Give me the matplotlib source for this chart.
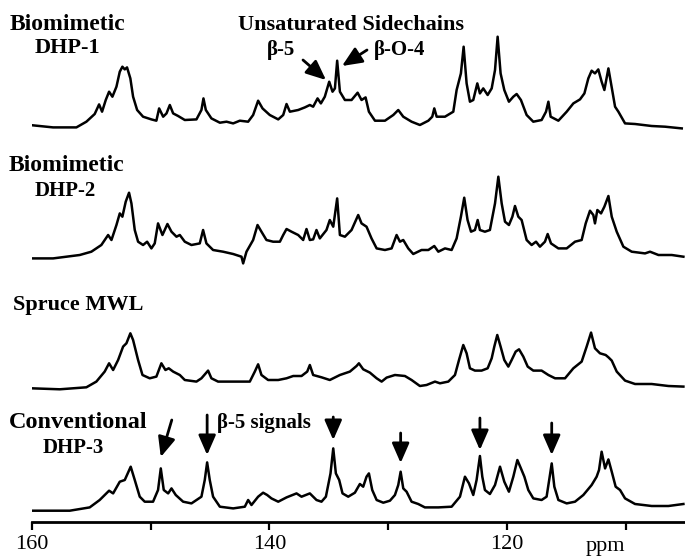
import matplotlib
matplotlib.use('Agg')
import matplotlib.pyplot as plt

# ---------------- data ----------------
dhp1_ppm = [160.17, 158.2, 156.24, 155.4, 154.7, 154.33, 154.08, 153.77, 153.49, 153.21, 152.87, 152.59,
            152.37, 152.17, 151.98, 151.7, 151.47, 151.13, 150.63, 149.93, 149.51, 149.28, 148.94, 148.66,
            148.38, 148.1, 147.68, 147.12, 146.14, 145.72, 145.55, 145.35, 144.88, 144.17, 143.61, 143.05,
            142.49, 141.79, 141.37, 140.95, 140.58, 139.97, 139.26, 138.84, 138.56, 138.28, 137.58, 137.02,
            136.6, 136.32, 135.95, 135.67, 135.34, 134.97, 134.69, 134.49, 134.3, 134.07, 133.65, 133.09,
            132.58, 132.25, 131.91, 131.63, 131.12, 130.28, 129.58, 129.16, 128.74, 128.04, 127.34, 126.63,
            126.3, 126.13, 125.93, 125.23, 124.53, 124.25, 123.89, 123.66, 123.41, 123.13, 122.85, 122.51,
            122.29, 122.01, 121.64, 121.3, 121.02, 120.8, 120.55, 120.24, 119.85, 119.48, 119.2, 118.84,
            118.36, 117.8, 117.1, 116.73, 116.53, 116.34, 115.69, 114.99, 114.43, 113.87, 113.5, 113.17,
            112.89, 112.61, 112.33, 112.05, 111.82, 111.48, 111.26, 110.92, 110.64, 110.08, 109.24, 107.84,
            106.71, 105.31]
dhp1_int = [1.7, -0.7, -0.7, 5, 12.7, 22.3, 15, 26.7, 35, 30, 40, 55,
            60, 57.3, 59.3, 48.3, 30, 16.7, 10, 7.3, 6, 18.3, 10, 13.3,
            21.7, 13.3, 10.7, 6.7, 7.3, 16.7, 28.3, 16.7, 8.3, 4, 5, 3.3,
            6, 5, 11.7, 26, 18.3, 11.7, 7.3, 11.7, 22.7, 15, 16.7, 19.3,
            21.7, 20, 28.3, 23.3, 30, 45, 35, 38.3, 66, 35, 26.7, 26.7,
            34, 26.7, 29.3, 15, 6, 6, 11.7, 16.7, 10, 5, 1.7, 6,
            10, 18.3, 10, 10, 15, 36.7, 53.3, 80, 43.3, 25, 26.7, 43.3,
            33.3, 38.3, 31.7, 38.3, 56.7, 90, 53.3, 36.7, 25, 30, 32.7, 26.7,
            11.7, 5, 6.7, 15, 25, 10, 6, 15, 23.3, 27.3, 33.3, 48.3,
            56, 53.3, 57.3, 45, 36.7, 58.3, 43.3, 20, 15, 3.3, 2.7, 0.7,
            0, -1.7]

dhp2_ppm = [160.03, 158.2, 155.96, 154.98, 154.14, 153.57, 153.29, 152.87, 152.59, 152.37, 152.09, 151.81,
            151.61, 151.33, 151.05, 150.63, 150.29, 149.93, 149.65, 149.37, 149.0, 148.58, 148.24, 147.82,
            147.54, 147.12, 146.56, 145.86, 145.58, 145.3, 144.74, 143.9, 143.05, 142.35, 142.21, 141.93,
            141.37, 141.0, 140.67, 140.25, 139.69, 139.12, 138.84, 138.56, 138.14, 137.58, 137.16, 136.88,
            136.6, 136.32, 136.04, 135.76, 135.2, 134.92, 134.63, 134.3, 134.07, 133.65, 133.09, 132.53,
            132.25, 131.83, 131.41, 130.98, 130.28, 129.72, 129.3, 129.02, 128.74, 128.32, 127.9, 127.2,
            126.63, 126.13, 125.79, 125.23, 124.67, 124.25, 123.89, 123.61, 123.33, 123.04, 122.71, 122.48,
            122.29, 121.87, 121.45, 121.02, 120.74, 120.46, 120.18, 119.85, 119.56, 119.34, 119.06, 118.78,
            118.36, 117.94, 117.57, 117.24, 116.82, 116.59, 116.31, 115.69, 114.99, 114.29, 113.73, 113.39,
            113.03, 112.75, 112.61, 112.41, 112.1, 111.82, 111.48, 111.2, 110.78, 110.22, 109.52, 108.4,
            107.98, 107.27, 106.15, 105.17]
dhp2_int = [-1.7, -1.7, 1.7, 5, 11.7, 21.7, 16.7, 31.7, 43.3, 40, 55, 64,
            53.3, 26.7, 15, 11.7, 15, 8.3, 13.3, 33.3, 21.7, 32.7, 25, 20,
            21.7, 15, 11.7, 13.3, 26.7, 13.3, 6.7, 5, 2.7, 0, -6.7, 5,
            16.7, 31.7, 25, 16.7, 15, 15, 21.7, 27.7, 25, 21.7, 16.7, 27.7,
            16.7, 17.3, 26.7, 18.3, 26.7, 36.7, 30, 58.3, 21.7, 20, 26.7, 41.7,
            33.3, 30, 18.3, 8.3, 6.7, 8.3, 21.7, 15, 16.7, 8.3, 2.7, 6.7,
            6.7, 10.7, 5, 8.3, 6.7, 18.3, 40, 59, 36.7, 25, 26.7, 36.7,
            26.7, 25, 26.7, 53.3, 80, 53.3, 35, 31.7, 40, 50.7, 40, 36.7,
            16.7, 11.7, 15, 10, 15, 22.7, 13.3, 8.3, 8.3, 15, 16.7, 33.3,
            46, 41.7, 33.3, 46.7, 43.3, 50, 60.7, 40, 25, 10, 5, 3.3,
            5, 1.7, 1.7, 0]

mwl_ppm = [160.03, 157.64, 155.4, 154.56, 153.86, 153.49, 153.15, 152.73, 152.31, 152.03, 151.7, 151.47,
           151.05, 150.68, 150.07, 149.51, 149.09, 148.75, 148.47, 148.1, 147.54, 147.12, 146.14, 145.72,
           145.16, 144.88, 144.32, 143.05, 141.65, 141.23, 140.95, 140.67, 140.11, 139.26, 138.56, 138.0,
           137.3, 136.82, 136.6, 136.32, 135.62, 134.92, 134.07, 133.23, 132.67, 132.47, 132.11, 131.55,
           130.98, 130.56, 130.14, 129.44, 128.6, 128.04, 127.34, 126.78, 126.07, 125.65, 124.95, 124.39,
           124.05, 123.69, 123.41, 123.13, 122.71, 122.15, 121.64, 121.3, 121.08, 120.83, 120.55, 120.24,
           119.9, 119.62, 119.28, 119.0, 118.64, 118.27, 117.8, 117.1, 116.53, 115.97, 115.13, 114.43,
           113.73, 113.31, 112.94, 112.61, 112.19, 111.71, 111.48, 111.2, 110.78, 110.08, 109.24, 107.84,
           106.43, 105.17]
mwl_int = [0, -1, 1, 6.7, 16.7, 25, 18.3, 28.3, 41.7, 45, 55, 48.3,
           28.3, 13.3, 10, 11.7, 25, 18.3, 20, 16.7, 13.3, 8.3, 6.7, 10,
           17.7, 10, 6.7, 6.7, 6.7, 16.7, 24, 13.3, 8.3, 8.3, 10, 12.3,
           12.3, 16.7, 23.3, 13.3, 11, 8.3, 13.3, 16.7, 22.3, 25, 19, 15.7,
           10, 6.7, 10.7, 13.3, 12.3, 8.3, 2.3, 3.3, 6.7, 5, 6.7, 13.3,
           28.3, 43.3, 35, 20, 17.7, 17.7, 20, 30, 41.7, 53.3, 41.7, 28.3,
           21.7, 28.3, 36.7, 39, 31.7, 21.7, 17.7, 17.7, 13.3, 10, 10, 20,
           26.7, 41.7, 55.7, 40, 35, 33.3, 31, 27.7, 16.7, 7.7, 4.3, 4.3,
           2.3, 1.7]

dhp3_ppm = [160.03, 156.8, 155.12, 154.28, 153.49, 153.15, 152.59, 152.17, 151.67, 151.33, 150.91, 150.49,
            149.79, 149.37, 149.14, 148.89, 148.52, 148.24, 147.88, 147.26, 146.56, 145.72, 145.44, 145.24,
            145.02, 144.74, 144.17, 143.05, 142.07, 141.79, 141.51, 140.95, 140.53, 140.19, 139.83, 139.26,
            138.56, 137.72, 137.3, 136.6, 136.04, 135.62, 135.25, 134.86, 134.63, 134.41, 134.13, 133.85,
            133.37, 132.81, 132.39, 132.11, 131.83, 131.63, 131.35, 130.98, 130.42, 129.86, 129.44, 129.16,
            128.96, 128.74, 128.46, 128.04, 127.48, 126.92, 125.79, 124.67, 123.97, 123.55, 123.21, 122.85,
            122.57, 122.29, 122.09, 121.87, 121.45, 121.02, 120.6, 120.24, 119.85, 119.48, 119.14, 118.84,
            118.55, 118.22, 117.8, 117.1, 116.68, 116.42, 116.25, 116.03, 115.69, 114.99, 114.29, 113.59,
            112.89, 112.47, 112.27, 112.05, 111.76, 111.48, 111.2, 110.87, 110.5, 110.08, 109.24, 107.84,
            106.43, 105.17]
dhp3_int = [0, 0, 3.3, 10.7, 20, 17.3, 29, 30.7, 44, 30.7, 14, 9,
            9, 20.7, 42.3, 20.7, 17.3, 22.3, 15.7, 9, 7.3, 14, 30.7, 48.3,
            30.7, 14, 4, 2.3, 4, 10.7, 5.7, 14, 18, 15.7, 12.3, 9,
            13.3, 17.3, 14, 17.3, 10.7, 9, 14, 37.3, 62.3, 37.3, 30.7, 17.3,
            14, 18, 26.7, 24, 34, 37.3, 20.7, 10.7, 8, 10, 15.7, 25.7,
            39, 22.3, 19, 9, 6.7, 3.3, 3.3, 4, 14, 34, 27.3, 15.7,
            30.7, 54.7, 34, 20.7, 16.7, 25.7, 44, 29, 19, 34, 50.7, 42.3,
            34, 20.7, 12.3, 10.7, 14, 34, 47.3, 24, 10.7, 7.3, 9, 15.7,
            25.7, 34, 40.7, 59, 42.3, 51.3, 39, 24, 20.7, 12.3, 6.7, 4.7,
            4.7, 6.7]

tick_values = [160, 150, 140, 130, 120, 110]
tick_labels = ["160", "", "140", "", "120", ""]
beta5_peaks = [149.14, 145.24, 134.63, 128.96, 122.29, 116.25]

# ---------------- layout ----------------
W, H = 685, 560
X160 = 31.7          # pixel position of 160 ppm
PX_PER_PPM = 11.886
AXIS_Y = 522.0

fig = plt.figure(figsize=(W / 100, H / 100), dpi=100)
ax = fig.add_axes([X160 / W, (H - AXIS_Y) / H, 1 - X160 / W, AXIS_Y / H])
ax.set_xlim(160, 160 - (W - X160) / PX_PER_PPM)
ax.set_ylim(0, AXIS_Y)

baseline_rows = [126.7, 256.7, 388.3, 510.7]
offsets = [AXIS_Y - r for r in baseline_rows]

series = [(dhp1_ppm, dhp1_int), (dhp2_ppm, dhp2_int), (mwl_ppm, mwl_int), (dhp3_ppm, dhp3_int)]
for (p, v), off in zip(series, offsets):
    ax.plot(p, [off + t for t in v], color='black', lw=1.8, solid_joinstyle='round')

for s in ['left', 'top', 'right']:
    ax.spines[s].set_visible(False)
ax.spines['bottom'].set_linewidth(2.0)
ax.set_yticks([])
ax.set_xticks(tick_values)
ax.set_xticklabels(tick_labels)
ax.tick_params(axis='x', direction='out', length=5.5, width=1.6, pad=4)
serif = ['Liberation Serif', 'DejaVu Serif']
for lab in ax.get_xticklabels():
    lab.set_fontfamily(serif)
    lab.set_fontsize(16)


def fp(x, y):
    return (x / W, 1 - y / H)


bold = dict(fontfamily=serif, fontweight='bold', color='black')

fig.text(*fp(10, 25), "Biomimetic", fontsize=17, ha='left', va='center', **bold)
fig.text(*fp(35, 48), "DHP-1", fontsize=16, ha='left', va='center', **bold)
fig.text(*fp(9, 165), "Biomimetic", fontsize=17, ha='left', va='center', **bold)
fig.text(*fp(35, 191), "DHP-2", fontsize=15, ha='left', va='center', **bold)
fig.text(*fp(13, 305), "Spruce MWL", fontsize=16, ha='left', va='center', **bold)
fig.text(*fp(9, 423), "Conventional", fontsize=17.5, ha='left', va='center', **bold)
fig.text(*fp(43, 448), "DHP-3", fontsize=15, ha='left', va='center', **bold)

fig.text(*fp(238, 25), "Unsaturated Sidechains", fontsize=16, ha='left', va='center', **bold)
fig.text(*fp(267, 50), "β-5", fontsize=15, ha='left', va='center', **bold)
fig.text(*fp(374, 50), "β-O-4", fontsize=15, ha='left', va='center', **bold)
fig.text(*fp(217, 423), "β-5 signals", fontsize=15, ha='left', va='center', **bold)
fig.text(*fp(605, 547), "ppm", fontsize=16, ha='center', va='center', fontfamily=serif)

arrow_style = dict(arrowstyle='-|>,head_length=0.8,head_width=0.35', color='black',
                   lw=2.0, mutation_scale=15, shrinkA=0, shrinkB=0)


def ppm_to_px(p):
    return X160 + (160 - p) * PX_PER_PPM


for tail, tip in [((303, 60), (326, 80)), ((367, 50), (342, 66))]:
    ax.annotate('', xy=fp(*tip), xytext=fp(*tail), xycoords='figure fraction',
                textcoords='figure fraction', arrowprops=arrow_style)

tails_y = [420, 415, 417, 433, 418, 423]
tips_y = [457, 455, 440, 463, 450, 455]
dx_tail = [11, 0, 0, 0, 0, 0]
for pk, ty, hy, dx in zip(beta5_peaks, tails_y, tips_y, dx_tail):
    x = ppm_to_px(pk)
    ax.annotate('', xy=fp(x, hy), xytext=fp(x + dx, ty), xycoords='figure fraction',
                textcoords='figure fraction', arrowprops=arrow_style)

fig.savefig('out.png', dpi=100)
